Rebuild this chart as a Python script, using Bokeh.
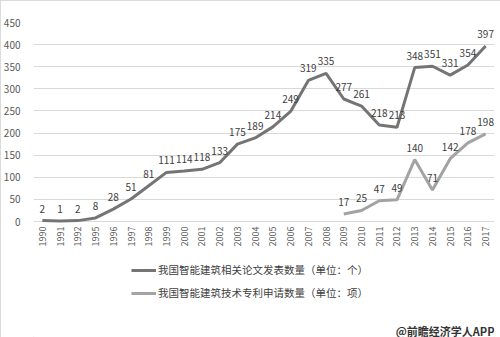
import math
from bokeh.plotting import figure
from bokeh.models import ColumnDataSource, Legend, LegendItem, Label, Range1d, FixedTicker
from bokeh.embed import file_html
from bokeh.resources import INLINE
from bokeh.core.properties import value

years = ["1990", "1991", "1992", "1995", "1996", "1997", "1998", "1999", "2000",
         "2001", "2002", "2003", "2004", "2005", "2006", "2007", "2008", "2009",
         "2010", "2011", "2012", "2013", "2014", "2015", "2016", "2017"]
papers = [2, 1, 2, 8, 28, 51, 81, 111, 114, 118, 133, 175, 189, 214, 249, 319,
          335, 277, 261, 218, 213, 348, 351, 331, 354, 397]
patent_years = ["2009", "2010", "2011", "2012", "2013", "2014", "2015", "2016", "2017"]
patents = [17, 25, 47, 49, 140, 71, 142, 178, 198]
y_ticks = [0, 50, 100, 150, 200, 250, 300, 350, 400, 450]
series_names = ["我国智能建筑相关论文发表数量（单位：个）",
                "我国智能建筑技术专利申请数量（单位：项）"]
watermark = "@前瞻经济学人APP"

FONT = "Noto Sans CJK SC"
C1 = "#747474"
C2 = "#a3a3a3"
TXT = "#404040"

# layout in pixels: plot top 22, value 0 at 221, canvas bottom 337
TOP, ZERO, H = 22, 221, 337
y_max = y_ticks[-1]
y_min = -y_max * (H - ZERO) / (ZERO - TOP)

src1 = ColumnDataSource(dict(x=years, y=papers, t=[str(v) for v in papers]))
src2 = ColumnDataSource(dict(x=patent_years, y=patents, t=[str(v) for v in patents]))
srcx = ColumnDataSource(dict(x=years, y=[0] * len(years), t=years))

p = figure(width=500, height=H, x_range=years, y_range=Range1d(y_min, y_max),
           output_backend="svg", toolbar_location=None,
           min_border_left=30, min_border_right=6, min_border_top=TOP,
           min_border_bottom=0)
p.outline_line_color = None
p.background_fill_color = "white"
p.border_fill_color = "white"
p.styles = {"outline": "1px solid #cfcfcf", "outline-offset": "-1px"}

p.xaxis.visible = False
p.xgrid.grid_line_color = None
p.ygrid.grid_line_color = "#d9d9d9"
p.ygrid.grid_line_width = 1
p.yaxis.ticker = FixedTicker(ticks=y_ticks)
p.yaxis.axis_line_color = None
p.yaxis.major_tick_line_color = None
p.yaxis.minor_tick_line_color = None
p.yaxis.major_label_standoff = 7
p.yaxis.major_label_text_font = FONT
p.yaxis.major_label_text_font_size = "10px"
p.yaxis.major_label_text_color = "#595959"

# category tick labels under the zero line
p.text("x", "y", text="t", source=srcx, angle=math.pi / 2, text_align="right",
       text_baseline="middle", y_offset=5, text_font=value(FONT),
       text_font_size="9px", text_color="#595959")

r1 = p.line("x", "y", source=src1, line_width=3, line_color=C1)
r2 = p.line("x", "y", source=src2, line_width=3, line_color=C2)

for s in (src1, src2):
    p.text("x", "y", text="t", source=s, text_align="center", text_baseline="bottom",
           y_offset=-8, text_font=value(FONT), text_font_size="10px", text_color=TXT)

legend = Legend(items=[LegendItem(label=series_names[0], renderers=[r1]),
                       LegendItem(label=series_names[1], renderers=[r2])],
                location=(98, 37), orientation="vertical",
                padding=0, margin=0, spacing=8,
                glyph_width=25, glyph_height=14, label_height=14,
                label_standoff=2, label_text_font=FONT, label_text_font_size="10.5px",
                label_text_color=TXT, border_line_alpha=0, background_fill_alpha=0)
p.add_layout(legend, "center")

p.add_layout(Label(x=461, y=7, x_units="screen", y_units="screen", text=watermark,
                   text_align="right", text_baseline="middle", text_font=FONT,
                   text_font_size="11px", text_font_style="bold", text_color="#333333"))

open("out.html", "w").write(file_html(p, INLINE))
